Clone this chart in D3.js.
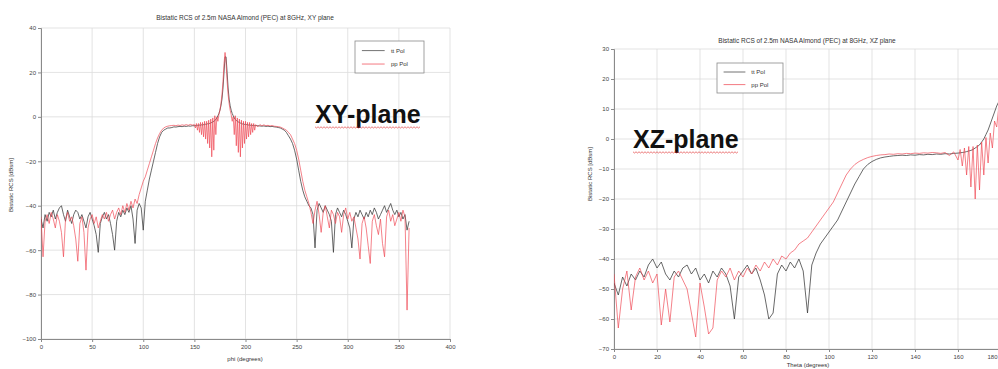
<!DOCTYPE html>
<html>
<head>
<meta charset="utf-8">
<script src="https://cdn.jsdelivr.net/npm/d3@7/dist/d3.min.js"></script>
<style>
  html, body { margin: 0; padding: 0; background: #fff; }
  svg { display: block; }
  text { font-family: "Liberation Sans", Arial, sans-serif; }
</style>
</head>
<body>
<svg id="chart" width="998" height="369"></svg>
<script>
// ---------- XY plane (phi sweep) ----------
const xyTitle = "Bistatic RCS of 2.5m NASA Almond (PEC) at 8GHz, XY plane";
const xyXTicks = [0, 50, 100, 150, 200, 250, 300, 350, 400];
const xyYTicks = [40, 20, 0, -20, -40, -60, -80, -100];

// tt Pol, phi = 0..148 step 2
const xyBlackA = [-46,-50,-44,-47,-43,-45,-42,-46,-43,-41,-40,-44,-47,-42,-45,-48,-44,-42,-43,-46,
  -44,-47,-50,-45,-43,-46,-49,-53,-61,-48,-45,-43,-46,-44,-48,-53,-60,-47,-43,-45,
  -42,-44,-41,-43,-40,-46,-57,-42,-39,-41,-51,-38,-33,-28,-24,-20,-16,-12,-9,-7,
  -6,-5.5,-5,-5,-4.8,-4.5,-4.6,-4.4,-4.3,-4.4,-4.2,-4.3,-4.1,-4.2,-4.0];
// tt Pol, phi = 150..210 step 1
const xyBlackB = [-4.0,-3.9,-4.0,-3.8,-3.9,-3.7,-3.8,-3.6,-3.7,-3.5,-3.5,-3.3,-3.4,-3.1,-3.2,-2.9,-2.8,-2.5,-2.3,-2,
  -1.6,-1.2,-0.5,0.5,1.5,3,5,8,13,20,27,27,20,13,8,5,3,1.5,0.5,-0.5,
  -1.2,-1.6,-2,-2.3,-2.5,-2.8,-2.9,-3.2,-3.1,-3.4,-3.3,-3.5,-3.5,-3.7,-3.6,-3.8,-3.7,-3.9,-3.8,-4.0,-3.9];
// tt Pol, phi = 212..360 step 2
const xyBlackC = [-4.0,-4.1,-4.2,-4.1,-4.3,-4.2,-4.4,-4.3,-4.5,-4.6,-4.8,-5,-5.5,-6,-7,-8.5,-10,-12,-15,-19,
  -24,-29,-33,-36,-38,-40,-41,-44,-59,-42,-39,-41,-43,-40,-42,-44,-47,-61,-44,-41,
  -43,-45,-42,-44,-47,-50,-59,-46,-43,-45,-42,-44,-46,-43,-45,-42,-44,-41,-43,-46,
  -44,-42,-40,-43,-41,-39,-42,-44,-42,-45,-43,-46,-44,-51,-47];

// pp Pol, phi = 0..148 step 2
const xyRedA = [-45,-63,-47,-44,-48,-43,-46,-50,-44,-47,-52,-63,-46,-43,-47,-45,-49,-55,-65,-48,
  -45,-52,-69,-50,-46,-44,-48,-45,-50,-47,-44,-46,-43,-47,-44,-42,-46,-43,-41,-44,
  -40,-43,-39,-42,-38,-41,-37,-39,-35,-32,-29,-27,-24,-21,-18,-15,-12,-9.5,-7.5,-6,
  -5,-4.5,-4.2,-4.0,-3.9,-3.8,-4.0,-3.7,-3.9,-3.6,-3.8,-3.5,-3.8,-3.4,-3.7];
// pp Pol, phi = 150..210 step 1
const xyRedB = [-3.5,-5,-3,-6,-3,-7,-2.5,-8,-2.5,-9,-2,-10,-2,-12,-1.5,-14,-1,-18,-0.5,-15,
  0.5,-8,0,-2,1,3,6,10,16,24,29,24,16,10,6,3,1,-2,0,-8,
  0.5,-13,-0.5,-16,-1,-18,-1.5,-14,-2,-12,-2,-10,-2.5,-9,-2.5,-8,-3,-7,-3,-6,-3.5];
// pp Pol, phi = 212..360 step 2
const xyRedC = [-4.5,-3.5,-4.0,-3.6,-4.0,-3.8,-4.1,-3.9,-4.2,-4.3,-4.4,-4.6,-5,-5.5,-6,-7,-8,-10,-12,-15,
  -19,-24,-29,-33,-36,-39,-43,-48,-42,-38,-44,-52,-43,-40,-45,-50,-42,-44,-48,-43,
  -45,-52,-44,-41,-46,-43,-47,-45,-50,-55,-64,-48,-45,-50,-58,-66,-47,-44,-49,-53,
  -46,-57,-63,-45,-42,-47,-44,-49,-46,-43,-47,-42,-45,-87,-50];

// ---------- XZ plane (theta sweep) ----------
const xzTitle = "Bistatic RCS of 2.5m NASA Almond (PEC) at 8GHz, XZ plane";
const xzXTicks = [0, 20, 40, 60, 80, 100, 120, 140, 160, 180];
const xzYTicks = [30, 20, 10, 0, -10, -20, -30, -40, -50, -60, -70];

// tt Pol, theta = 0..160 step 2
const xzBlackA = [-48,-52,-46,-49,-45,-47,-44,-46,-42,-40,-43,-41,-45,-47,-44,-46,-43,-42,-45,-43,
  -47,-45,-48,-44,-46,-43,-45,-49,-60,-46,-44,-42,-45,-43,-47,-52,-60,-58,-45,-42,
  -44,-41,-43,-40,-44,-58,-42,-38,-35,-33,-31,-29,-27,-24,-21,-18,-15,-12.5,-10,-8.5,
  -7.5,-6.8,-6.3,-6,-5.8,-5.6,-5.5,-5.4,-5.5,-5.3,-5.4,-5.2,-5.3,-5.1,-5.2,-5.0,-5.1,-4.9,-5.0,-4.8,-4.7];
// tt Pol, theta = 161..180 step 1
const xzBlackB = [-4.6,-4.5,-4.4,-4.2,-4.0,-3.8,-3.5,-3.0,-2.5,-2,-1,0,1.5,3,5,7,9,11,12.5,14];

// pp Pol, theta = 0..160 step 2
const xzRedA = [-45,-63,-50,-44,-57,-46,-43,-47,-44,-48,-45,-62,-50,-61,-46,-44,-47,-50,-58,-66,
  -48,-56,-65,-63,-47,-44,-46,-43,-47,-44,-46,-43,-45,-42,-44,-41,-43,-40,-42,-39,
  -40,-38,-37,-35,-34,-33,-31,-29,-27,-25,-23,-21,-18,-15,-12,-10,-8.5,-7.5,-6.8,-6.2,
  -5.8,-5.5,-5.3,-5.2,-5.0,-5.1,-4.9,-5.0,-4.8,-4.9,-4.7,-4.8,-4.6,-4.7,-4.5,-4.6,-4.8,-4.5,-5.5,-4.3,-7];
// pp Pol, theta = 161..180 step 1
const xzRedB = [-3.5,-9,-3,-12,-2.5,-16,-2.5,-20,-2,-17,-1,-12,0.5,-8,2,-3,6,4,11,13];

const legendLabels = ["tt Pol", "pp Pol"];
const seriesColors = ["#3a3a3a", "#ee4450"];

// pair up sample angles with values
function seg(start, step, vals) { return vals.map((v, i) => [start + i * step, v]); }

const xyBlack = [...seg(0, 2, xyBlackA), ...seg(150, 1, xyBlackB), ...seg(212, 2, xyBlackC)];
const xyRed = [...seg(0, 2, xyRedA), ...seg(150, 1, xyRedB), ...seg(212, 2, xyRedC)];
const xzBlack = [...seg(0, 2, xzBlackA), ...seg(161, 1, xzBlackB)];
const xzRed = [...seg(0, 2, xzRedA), ...seg(161, 1, xzRedB)];

const svg = d3.select("#chart");
const svgWidth = +svg.attr("width");

function drawPanel(cfg) {
  const g = svg.append("g");
  const x = d3.scaleLinear().domain(cfg.xDomain).range(cfg.xRange);
  const y = d3.scaleLinear().domain(cfg.yDomain).range(cfg.yRange);
  const [x0, x1] = cfg.xRange;
  const [y0, y1] = cfg.yRange; // y0 bottom, y1 top

  // grid
  g.append("g").selectAll("line.v").data(cfg.xTicks).join("line")
    .attr("x1", d => x(d)).attr("x2", d => x(d))
    .attr("y1", y1).attr("y2", y0)
    .attr("stroke", "#dcdcdc").attr("stroke-width", 0.8);
  g.append("g").selectAll("line.h").data(cfg.yTicks).join("line")
    .attr("x1", x0).attr("x2", x1)
    .attr("y1", d => y(d)).attr("y2", d => y(d))
    .attr("stroke", "#dcdcdc").attr("stroke-width", 0.8);

  // axes
  const xAxis = d3.axisBottom(x).tickValues(cfg.xTicks).tickSize(3).tickPadding(3);
  const yAxis = d3.axisLeft(y).tickValues(cfg.yTicks).tickSize(3).tickPadding(2);
  const gx = g.append("g").attr("transform", `translate(0,${y0})`).call(xAxis);
  const gy = g.append("g").attr("transform", `translate(${x0},0)`).call(yAxis);
  [gx, gy].forEach(a => {
    a.select(".domain").attr("stroke", "#8a8a8a").attr("stroke-width", 1);
    a.selectAll(".tick line").attr("stroke", "#8a8a8a");
    a.selectAll(".tick text").attr("fill", "#444").style("font-size", "6px")
      .style("font-family", "'Liberation Sans', Arial, sans-serif");
  });
  // keep a tick label that would run past the page edge inside it
  gx.selectAll(".tick text").filter(d => x(d) + 6 > svgWidth)
    .attr("text-anchor", "end").attr("x", d => svgWidth - 1 - x(d));

  // curves
  const line = d3.line().x(d => x(d[0])).y(d => y(d[1]));
  const clipId = cfg.id + "-clip";
  g.append("clipPath").attr("id", clipId).append("rect")
    .attr("x", x0).attr("y", y1 - 2).attr("width", x1 - x0).attr("height", y0 - y1 + 2);
  const plot = g.append("g").attr("clip-path", `url(#${clipId})`);
  plot.append("path").datum(cfg.black).attr("d", line)
    .attr("fill", "none").attr("stroke", seriesColors[0]).attr("stroke-width", 0.9)
    .attr("stroke-opacity", 0.85);
  plot.append("path").datum(cfg.red).attr("d", line)
    .attr("fill", "none").attr("stroke", seriesColors[1]).attr("stroke-width", 0.9)
    .attr("stroke-opacity", 0.75);

  // title and axis labels
  g.append("text").attr("x", cfg.titleX).attr("y", cfg.titleY)
    .attr("text-anchor", "middle").attr("fill", "#333").style("font-size", "6.5px").text(cfg.title);
  g.append("text").attr("x", cfg.xLabelX).attr("y", cfg.xLabelY)
    .attr("text-anchor", "middle").attr("fill", "#333").style("font-size", "6px").text(cfg.xLabel);
  g.append("text").attr("transform", `translate(${cfg.yLabelX},${cfg.yLabelY}) rotate(-90)`)
    .attr("text-anchor", "middle").attr("fill", "#333").style("font-size", "6px").text("Bistatic RCS [dBsm]");

  // legend
  const L = cfg.legend;
  const lg = g.append("g").attr("transform", `translate(${L.x},${L.y})`);
  lg.append("rect").attr("width", L.w).attr("height", L.h)
    .attr("fill", "#fff").attr("stroke", "#8a8a8a").attr("stroke-width", 0.8);
  legendLabels.forEach((lab, i) => {
    const yy = L.h * (i === 0 ? 0.3 : 0.72);
    lg.append("line").attr("x1", L.w * 0.1).attr("x2", L.w * 0.43).attr("y1", yy).attr("y2", yy)
      .attr("stroke", seriesColors[i]).attr("stroke-width", 0.9).attr("stroke-opacity", 0.8);
    lg.append("text").attr("x", L.w * 0.52).attr("y", yy + 2).attr("fill", "#333")
      .style("font-size", "6px").text(lab);
  });

  // plane annotation with a red wavy underline
  const note = g.append("text").attr("x", cfg.noteX).attr("y", cfg.noteY)
    .attr("fill", "#111").style("font-size", "25px").style("font-weight", "bold").text(cfg.note);
  const bb = note.node().getBBox();
  const uy = cfg.noteY + 4;
  const pts = d3.range(bb.x, bb.x + bb.width, 1.5).map((px, i) => [px, uy + (i % 2 ? 1 : -0.2)]);
  g.append("path").attr("d", d3.line()(pts)).attr("fill", "none")
    .attr("stroke", "#e03030").attr("stroke-width", 0.8).attr("stroke-opacity", 0.8);
}

drawPanel({
  id: "xy", xDomain: [0, 400], xRange: [41, 450], yDomain: [-100, 40], yRange: [339, 28],
  xTicks: xyXTicks, yTicks: xyYTicks, black: xyBlack, red: xyRed,
  title: xyTitle, titleX: 245, titleY: 20,
  xLabel: "phi (degrees)", xLabelX: 245, xLabelY: 361,
  yLabelX: 13, yLabelY: 185,
  legend: { x: 355, y: 41, w: 69, h: 32 },
  note: "XY-plane", noteX: 315, noteY: 123
});

drawPanel({
  id: "xz", xDomain: [0, 180], xRange: [614, 1001], yDomain: [-70, 30], yRange: [349, 49],
  xTicks: xzXTicks, yTicks: xzYTicks, black: xzBlack, red: xzRed,
  title: xzTitle, titleX: 807, titleY: 43,
  xLabel: "Theta (degrees)", xLabelX: 808, xLabelY: 367,
  yLabelX: 592, yLabelY: 174,
  legend: { x: 717, y: 63, w: 66, h: 30 },
  note: "XZ-plane", noteX: 633, noteY: 148
});
</script>
</body>
</html>
